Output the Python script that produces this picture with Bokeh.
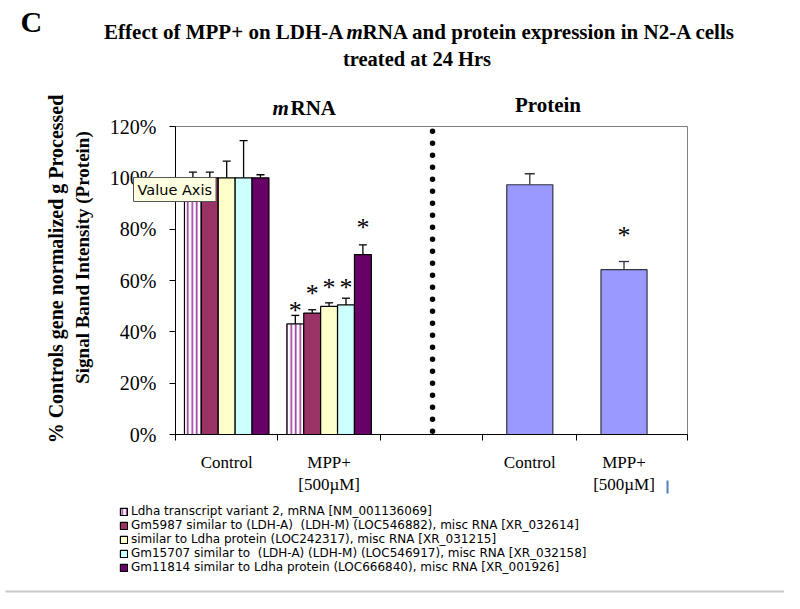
import numpy as np
from bokeh.plotting import figure
from bokeh.models import (Range1d, FixedTicker, NumeralTickFormatter, Label,
                          Legend, LegendItem, ColumnDataSource, Whisker, TeeHead,
                          BoxAnnotation)
from bokeh.core.properties import value
from bokeh.embed import file_html
from bokeh.resources import INLINE

# ---------------- data ----------------
mrna_groups = ["Control", "MPP+\n[500µM]"]
protein_groups = ["Control", "MPP+\n[500µM]"]
series_names = [
    "Ldha transcript variant 2, mRNA [NM_001136069]",
    "Gm5987 similar to (LDH-A)  (LDH-M) (LOC546882), misc RNA [XR_032614]",
    "similar to Ldha protein (LOC242317), misc RNA [XR_031215]",
    "Gm15707 similar to  (LDH-A) (LDH-M) (LOC546917), misc RNA [XR_032158]",
    "Gm11814 similar to Ldha protein (LOC666840), misc RNA [XR_001926]",
]
mrna_control = [1.00, 1.00, 1.00, 1.00, 1.00]
mrna_control_err = [0.022, 0.022, 0.065, 0.145, 0.012]
mrna_mpp = [0.431, 0.473, 0.499, 0.505, 0.701]
mrna_mpp_err = [0.033, 0.013, 0.014, 0.026, 0.038]
mrna_mpp_star = [0.483, 0.549, 0.573, 0.573, 0.807]
protein_values = [0.973, 0.642]
protein_err = [0.043, 0.032]
protein_star = [0.774]
y_ticks = [0.0, 0.2, 0.4, 0.6, 0.8, 1.0, 1.2]

# ---------------- layout / style ----------------
W, H = 784, 593
PLOT_L, PLOT_R, PLOT_T, PLOT_B = 175, 687, 126, 434   # plot box in canvas pixels
X0, X1, Y0, Y1 = 0.0, 5.0, 0.0, 1.2
sx = (PLOT_R - PLOT_L) / (X1 - X0)
sy = (PLOT_B - PLOT_T) / (Y1 - Y0)
x_range = Range1d(X0 - PLOT_L / sx, X1 + (W - PLOT_R) / sx)
y_range = Range1d(Y0 - (H - PLOT_B) / sy, Y1 + PLOT_T / sy)

group_x = [0.5, 1.5]
bar_step = 0.165
bar_w = 0.165
protein_x = [3.46, 4.38]
protein_w = 0.45
boundaries = [0, 1, 2, 3, 3.92, 5]
divider_x = 2.51
fills = ["white", "#993366", "#FFFFCC", "#CCFFFF", "#660066"]
SERIF = value("Liberation Serif")

p = figure(width=W, height=H, output_backend="svg", toolbar_location=None,
           x_range=x_range, y_range=y_range, min_border=0,
           min_border_left=0, min_border_right=0, min_border_top=0,
           min_border_bottom=0, background_fill_color="white",
           border_fill_color="white")
p.title = None
p.xgrid.visible = False
p.ygrid.visible = False
p.outline_line_color = None

# y axis
p.yaxis.fixed_location = X0
p.yaxis.bounds = (Y0, Y1)
p.yaxis.ticker = FixedTicker(ticks=y_ticks)
p.yaxis.formatter = NumeralTickFormatter(format="0%")
p.yaxis.major_label_text_font = "Liberation Serif"
p.yaxis.major_label_text_font_size = "20px"
p.yaxis.major_label_text_color = "black"
p.yaxis.major_tick_out = 6
p.yaxis.major_tick_in = 0
p.yaxis.minor_tick_line_color = None
p.yaxis.major_label_standoff = 13
p.yaxis.axis_line_color = "black"
p.yaxis.major_tick_line_color = "black"

# x axis
xt = group_x + protein_x
p.xaxis.fixed_location = Y0
p.xaxis.bounds = (X0, X1)
p.xaxis.ticker = FixedTicker(ticks=xt, minor_ticks=boundaries)
p.xaxis.major_label_overrides = {xt[0]: mrna_groups[0], xt[1]: mrna_groups[1],
                                 xt[2]: protein_groups[0], xt[3]: protein_groups[1]}
p.xaxis.major_tick_line_color = None
p.xaxis.major_tick_out = 0
p.xaxis.major_tick_in = 0
p.xaxis.minor_tick_out = 6
p.xaxis.minor_tick_in = 0
p.xaxis.minor_tick_line_color = "black"
p.xaxis.major_label_standoff = 12
p.xaxis.major_label_text_font = "Liberation Serif"
p.xaxis.major_label_text_font_size = "17px"
p.xaxis.major_label_text_color = "black"
p.xaxis.axis_line_color = "black"

# plot box (top and right edges, gray)
p.line(x=[X0, X1, X1], y=[Y1, Y1, Y0], line_color="#808080", line_width=1)

# mRNA bars
items = []
for i in range(5):
    xs = [g + (i - 2) * bar_step for g in group_x]
    tops = [mrna_control[i], mrna_mpp[i]]
    kw = dict(fill_color=fills[i], line_color="black", line_width=1.2)
    if i == 0:
        kw.update(hatch_pattern="|", hatch_color="#993399", hatch_scale=4.5,
                  hatch_weight=1.6)
    r = p.vbar(x=xs, top=tops, bottom=0, width=bar_w, **kw)
    items.append(LegendItem(label=series_names[i], renderers=[r]))
    src = ColumnDataSource(dict(x=xs, lower=tops,
                                upper=[tops[0] + mrna_control_err[i],
                                       tops[1] + mrna_mpp_err[i]]))
    p.add_layout(Whisker(base="x", lower="lower", upper="upper", source=src,
                         line_color="black", line_width=1.3, lower_head=None,
                         upper_head=TeeHead(size=8, line_color="black",
                                            line_width=1.3)))
    p.text(x=[xs[1]], y=[mrna_mpp_star[i]], text=["*"], text_font=SERIF,
           text_font_size="26px", text_align="center", text_baseline="middle",
           text_color="black")

# protein bars
p.vbar(x=protein_x, top=protein_values, bottom=0, width=protein_w,
       fill_color="#9999FF", line_color="#333344", line_width=1.2)
psrc = ColumnDataSource(dict(x=protein_x, lower=protein_values,
                             upper=[v + e for v, e in zip(protein_values, protein_err)]))
p.add_layout(Whisker(base="x", lower="lower", upper="upper", source=psrc,
                     line_color="#333344", line_width=1.3, lower_head=None,
                     upper_head=TeeHead(size=10, line_color="#333344",
                                        line_width=1.3)))
p.text(x=[protein_x[1]], y=protein_star, text=["*"], text_font=SERIF,
       text_font_size="26px", text_align="center", text_baseline="middle",
       text_color="black")

# dotted divider
p.line(x=[divider_x, divider_x], y=[0.013, 1.19], line_color="black",
       line_width=5.5, line_dash="0 12", line_cap="round")

# ---------------- texts (canvas pixel positions) ----------------
def L(text, x, y, size, bold=True, italic=False, align="left", baseline="alphabetic",
      angle=0, font="Liberation Serif", **kw):
    style = "bold italic" if (bold and italic) else ("bold" if bold else ("italic" if italic else "normal"))
    lab = Label(x=x, y=H - y, x_units="screen", y_units="screen", text=text,
                text_font=font, text_font_size=f"{size}px", text_font_style=style,
                text_align=align, text_baseline=baseline, angle=angle,
                text_color="black", **kw)
    p.add_layout(lab)
    return lab

L("C", 20, 21, 30)
L("Effect of MPP+ on LDH-A", 343, 31.5, 21, align="right")
L("m", 346, 31.5, 21, italic=True)
L("RNA and protein expression in N2-A cells", 362, 31.5, 21)
L("treated at 24 Hrs", 416.5, 58, 20.5, align="center")
L("m", 272, 107.5, 21, italic=True)
L("RNA", 290, 107.5, 21)
L("Protein", 547.5, 104.5, 21, align="center")
L("%  Controls gene normalized g Processed", 55, 266, 20, align="center",
  baseline="middle", angle=np.pi / 2)
L("Signal Band Intensity (Protein)", 82, 257, 19, align="center",
  baseline="middle", angle=np.pi / 2)
L("Value Axis", 133, 189, 14.5, bold=False, baseline="middle", font="DejaVu Sans",
  background_fill_color="#FFFFE1", border_line_color="#555555",
  border_line_width=1, padding=4)

# legend
legend = Legend(items=items, location=(119, H - 574), orientation="vertical",
                label_text_font="DejaVu Sans", label_text_font_size="12px",
                label_text_line_height=1.0,
                label_text_color="black", label_height=12, glyph_height=9,
                glyph_width=9, spacing=0, padding=0, margin=0,
                label_standoff=3, border_line_color=None,
                background_fill_alpha=0)
p.add_layout(legend, "center")

# decorative lines
p.add_layout(BoxAnnotation(left=5, right=W, bottom=1, top=3,
                           left_units="screen", right_units="screen",
                           bottom_units="screen", top_units="screen",
                           fill_color="#C8C8C8", fill_alpha=1, line_color=None))
p.add_layout(BoxAnnotation(left=666, right=668, bottom=H - 493, top=H - 480,
                           left_units="screen", right_units="screen",
                           bottom_units="screen", top_units="screen",
                           fill_color="#4F81BD", fill_alpha=1, line_color=None))

open("out.html", "w").write(file_html(p, INLINE))
